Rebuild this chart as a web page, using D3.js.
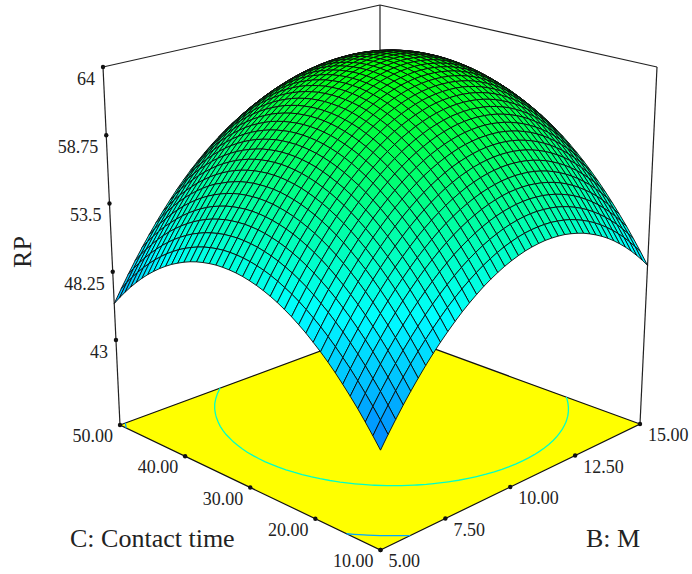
<!DOCTYPE html>
<html>
<head>
<meta charset="utf-8">
<script src="https://cdn.jsdelivr.net/npm/d3@7"></script>
<style>
html, body { margin: 0; padding: 0; background: #fff; }
text { font-family: "Liberation Serif", serif; fill: #222; }
</style>
</head>
<body>
<svg id="chart"></svg>
<script>
const width = 692
const height = 574

const rpTicks = [43, 48.25, 53.5, 58.75, 64]
const bTicks = [5, 7.5, 10, 12.5, 15]
const cTicks = [10, 20, 30, 40, 50]
const contourLevels = [46.5, 56]
const contourColors = ['#00a8ff', '#00ffc8']

// rows: B from 5 to 15, columns: C from 10 to 50
const rpGrid = [
  [43.30,44.06,44.79,45.49,46.14,46.76,47.35,47.90,48.41,48.88,49.33,49.73,50.10,50.43,50.73,50.99,51.21,51.40,51.55,51.67,51.75,51.79,51.80,51.78,51.71,51.61,51.48,51.31,51.10,50.85,50.58,50.26,49.91,49.52,49.10,48.64,48.14,47.61,47.04,46.44,45.80],
  [44.15,44.92,45.65,46.34,47.00,47.63,48.21,48.76,49.28,49.76,50.20,50.61,50.98,51.32,51.61,51.88,52.11,52.30,52.45,52.57,52.65,52.70,52.71,52.69,52.63,52.53,52.40,52.23,52.02,51.78,51.51,51.19,50.85,50.46,50.04,49.58,49.09,48.56,48.00,47.40,46.76],
  [44.96,45.73,46.47,47.16,47.83,48.45,49.04,49.60,50.11,50.60,51.04,51.45,51.83,52.16,52.47,52.73,52.96,53.16,53.31,53.44,53.52,53.57,53.59,53.56,53.51,53.41,53.28,53.12,52.91,52.68,52.40,52.09,51.75,51.36,50.95,50.49,50.00,49.48,48.91,48.32,47.68],
  [45.74,46.51,47.25,47.95,48.61,49.24,49.83,50.39,50.91,51.40,51.85,52.26,52.64,52.98,53.28,53.55,53.78,53.98,54.14,54.27,54.36,54.41,54.43,54.40,54.35,54.26,54.13,53.97,53.77,53.53,53.26,52.95,52.61,52.23,51.82,51.36,50.88,50.35,49.79,49.20,48.57],
  [46.48,47.25,47.99,48.70,49.36,49.99,50.59,51.15,51.67,52.16,52.61,53.03,53.41,53.75,54.06,54.33,54.57,54.77,54.93,55.06,55.15,55.21,55.23,55.21,55.15,55.06,54.94,54.77,54.58,54.34,54.07,53.76,53.42,53.04,52.62,52.17,51.71,51.19,50.63,50.05,49.42],
  [47.18,47.96,48.70,49.41,50.08,50.71,51.31,51.87,52.40,52.89,53.34,53.76,54.14,54.49,54.80,55.07,55.31,55.51,55.68,55.81,55.91,55.96,55.99,55.97,55.92,55.84,55.72,55.56,55.36,55.13,54.87,54.57,54.23,53.86,53.45,53.00,52.52,52.00,51.45,50.86,50.23],
  [47.85,48.63,49.37,50.08,50.75,51.39,51.99,52.56,53.09,53.58,54.03,54.46,54.84,55.19,55.50,55.78,56.02,56.23,56.40,56.53,56.63,56.69,56.71,56.69,56.65,56.56,56.45,56.28,56.09,55.85,55.62,55.32,54.98,54.61,54.20,53.76,53.28,52.77,52.22,51.63,51.01],
  [48.48,49.26,50.00,50.72,51.40,52.04,52.64,53.21,53.74,54.24,54.70,55.12,55.51,55.86,56.18,56.46,56.70,56.91,57.09,57.22,57.32,57.39,57.41,57.40,57.35,57.27,57.15,57.00,56.81,56.58,56.32,56.02,55.69,55.31,54.91,54.46,53.99,53.49,52.95,52.36,51.75],
  [49.07,49.85,50.60,51.32,52.00,52.64,53.25,53.82,54.35,54.85,55.31,55.74,56.13,56.49,56.81,57.09,57.33,57.55,57.72,57.86,57.96,58.03,58.06,58.05,58.01,57.93,57.82,57.67,57.48,57.26,57.00,56.70,56.38,56.00,55.60,55.17,54.70,54.19,53.66,53.07,52.45],
  [49.62,50.41,51.17,51.88,52.57,53.21,53.82,54.39,54.93,55.43,55.90,56.33,56.72,57.08,57.40,57.68,57.93,58.15,58.33,58.47,58.57,58.64,58.67,58.67,58.63,58.55,58.45,58.29,58.11,57.89,57.64,57.35,57.02,56.66,56.26,55.82,55.36,54.85,54.32,53.73,53.12],
  [50.14,50.94,51.69,52.41,53.10,53.75,54.36,54.93,55.47,55.97,56.44,56.87,57.27,57.63,57.95,58.24,58.50,58.72,58.90,59.04,59.15,59.22,59.26,59.25,59.22,59.15,59.03,58.89,58.71,58.50,58.25,57.96,57.64,57.28,56.88,56.45,55.98,55.48,54.95,54.36,53.75],
  [50.63,51.42,52.18,52.91,53.59,54.24,54.86,55.44,55.98,56.48,56.95,57.38,57.78,58.15,58.47,58.77,59.03,59.25,59.43,59.58,59.69,59.76,59.80,59.80,59.77,59.69,59.59,59.45,59.27,59.06,58.81,58.53,58.21,57.85,57.45,57.02,56.57,56.07,55.54,54.97,54.34],
  [51.07,51.87,52.63,53.36,54.05,54.70,55.32,55.90,56.44,56.95,57.42,57.86,58.27,58.63,58.96,59.26,59.51,59.73,59.92,60.07,60.18,60.26,60.30,60.30,60.27,60.19,60.10,59.96,59.80,59.58,59.34,59.06,58.74,58.38,57.99,57.56,57.11,56.61,56.07,55.50,54.89],
  [51.48,52.28,53.05,53.78,54.47,55.13,55.75,56.33,56.88,57.39,57.87,58.31,58.71,59.08,59.41,59.71,59.97,60.19,60.38,60.53,60.65,60.73,60.77,60.78,60.75,60.69,60.59,60.45,60.28,60.08,59.83,59.55,59.24,58.88,58.50,58.07,57.61,57.12,56.59,56.02,55.41],
  [51.86,52.66,53.43,54.16,54.85,55.52,56.13,56.72,57.27,57.78,58.27,58.71,59.12,59.49,59.82,60.12,60.38,60.62,60.81,60.96,61.08,61.16,61.21,61.22,61.19,61.13,61.04,60.90,60.74,60.53,60.29,60.02,59.71,59.36,58.98,58.56,58.11,57.61,57.08,56.50,55.90],
  [52.19,53.00,53.77,54.50,55.20,55.86,56.49,57.08,57.63,58.15,58.63,59.08,59.49,59.86,60.20,60.50,60.76,60.99,61.19,61.35,61.47,61.55,61.60,61.62,61.59,61.54,61.44,61.31,61.15,60.94,60.71,60.43,60.12,59.77,59.39,58.97,58.52,58.03,57.50,56.94,56.34],
  [52.49,53.30,54.07,54.81,55.51,56.18,56.80,57.40,57.95,58.47,58.96,59.41,59.82,60.20,60.54,60.84,61.11,61.34,61.54,61.70,61.82,61.91,61.96,61.98,61.96,61.91,61.81,61.69,61.52,61.32,61.09,60.82,60.51,60.17,59.79,59.37,58.92,58.43,57.91,57.35,56.75],
  [52.76,53.57,54.34,55.08,55.78,56.45,57.08,57.68,58.24,58.76,59.25,59.70,60.11,60.49,60.84,61.14,61.42,61.65,61.85,62.01,62.14,62.23,62.29,62.31,62.29,62.24,62.15,62.02,61.86,61.67,61.43,61.16,60.86,60.52,60.14,59.73,59.28,58.80,58.28,57.72,57.13],
  [52.98,53.80,54.57,55.32,56.02,56.69,57.33,57.93,58.49,59.01,59.50,59.96,60.37,60.76,61.10,61.41,61.68,61.92,62.13,62.29,62.42,62.52,62.57,62.60,62.58,62.53,62.45,62.32,62.17,61.97,61.74,61.48,61.17,60.84,60.46,60.05,59.61,59.12,58.61,58.05,57.46],
  [53.17,53.99,54.77,55.52,56.22,56.90,57.53,58.13,58.70,59.23,59.72,60.18,60.60,60.98,61.33,61.64,61.92,62.16,62.37,62.54,62.67,62.76,62.83,62.85,62.84,62.79,62.71,62.59,62.43,62.24,62.02,61.75,61.45,61.12,60.75,60.34,59.90,59.42,58.90,58.35,57.76],
  [53.33,54.15,54.93,55.68,56.39,57.06,57.70,58.31,58.87,59.41,59.90,60.36,60.78,61.17,61.52,61.84,62.12,62.36,62.57,62.74,62.88,62.98,63.04,63.07,63.06,63.01,62.93,62.82,62.66,62.48,62.25,61.99,61.69,61.36,60.99,60.59,60.15,59.67,59.16,58.61,58.03],
  [53.44,54.27,55.05,55.80,56.52,57.19,57.84,58.44,59.01,59.55,60.05,60.51,60.93,61.32,61.68,62.00,62.28,62.53,62.74,62.91,63.05,63.15,63.22,63.25,63.24,63.20,63.12,63.01,62.86,62.67,62.45,62.19,61.90,61.57,61.20,60.80,60.36,59.89,59.38,58.83,58.25],
  [53.52,54.35,55.14,55.89,56.61,57.29,57.93,58.54,59.11,59.65,60.15,60.62,61.05,61.44,61.80,62.12,62.40,62.65,62.86,63.04,63.18,63.29,63.36,63.39,63.39,63.35,63.27,63.16,63.01,62.83,62.61,62.36,62.07,61.74,61.38,60.98,60.54,60.07,59.56,59.02,58.44],
  [53.57,54.39,55.19,55.94,56.66,57.34,57.99,58.60,59.18,59.72,60.22,60.69,61.12,61.52,61.88,62.20,62.49,62.74,62.96,63.14,63.28,63.39,63.46,63.50,63.50,63.46,63.39,63.28,63.13,62.95,62.74,62.49,62.20,61.87,61.51,61.12,60.68,60.22,59.71,59.17,58.60],
  [53.57,54.40,55.20,55.96,56.68,57.37,58.02,58.63,59.21,59.75,60.26,60.73,61.16,61.56,61.92,62.25,62.54,62.80,63.01,63.20,63.34,63.45,63.53,63.57,63.57,63.54,63.47,63.36,63.22,63.04,62.83,62.58,62.29,61.97,61.61,61.22,60.79,60.33,59.82,59.29,58.71],
  [53.54,54.38,55.17,55.93,56.66,57.35,58.00,58.62,59.20,59.75,60.26,60.73,61.17,61.57,61.93,62.26,62.55,62.81,63.03,63.22,63.37,63.48,63.56,63.60,63.60,63.57,63.51,63.40,63.27,63.09,62.88,62.63,62.35,62.03,61.68,61.29,60.86,60.40,59.90,59.36,58.79],
  [53.48,54.31,55.11,55.88,56.60,57.30,57.95,58.57,59.16,59.71,60.22,60.69,61.13,61.54,61.90,62.24,62.53,62.79,63.02,63.21,63.36,63.47,63.55,63.60,63.60,63.58,63.51,63.41,63.28,63.11,62.90,62.65,62.37,62.06,61.70,61.32,60.89,60.43,59.94,59.41,58.84],
  [53.37,54.21,55.02,55.78,56.51,57.21,57.87,58.49,59.08,59.63,60.14,60.62,61.06,61.47,61.84,62.18,62.47,62.74,62.96,63.15,63.31,63.43,63.51,63.56,63.57,63.54,63.48,63.38,63.25,63.08,62.88,62.64,62.36,62.04,61.70,61.31,60.89,60.43,59.94,59.41,58.84],
  [53.23,54.08,54.88,55.65,56.38,57.08,57.74,58.37,58.96,59.51,60.03,60.51,60.96,61.37,61.74,62.08,62.38,62.64,62.87,63.07,63.22,63.35,63.43,63.48,63.49,63.47,63.41,63.32,63.19,63.02,62.82,62.58,62.31,62.00,61.65,61.27,60.85,60.39,59.90,59.38,58.81],
  [53.06,53.90,54.71,55.48,56.22,56.92,57.58,58.21,58.80,59.36,59.88,60.36,60.81,61.23,61.60,61.94,62.25,62.51,62.75,62.94,63.10,63.23,63.32,63.37,63.38,63.36,63.31,63.22,63.09,62.93,62.73,62.49,62.22,61.91,61.57,61.19,60.77,60.32,59.83,59.31,58.75],
  [52.84,53.69,54.50,55.28,56.02,56.72,57.39,58.02,58.61,59.17,59.69,60.18,60.63,61.05,61.43,61.77,62.08,62.35,62.58,62.78,62.94,63.07,63.16,63.22,63.24,63.22,63.17,63.08,62.95,62.79,62.59,62.36,62.09,61.79,61.45,61.07,60.66,60.21,59.72,59.20,58.64],
  [52.59,53.44,54.26,55.04,55.78,56.48,57.15,57.79,58.38,58.95,59.47,59.96,60.42,60.83,61.22,61.56,61.87,62.14,62.38,62.58,62.75,62.88,62.97,63.03,63.05,63.04,62.99,62.90,62.78,62.62,62.43,62.20,61.93,61.63,61.29,60.92,60.51,60.06,59.58,59.06,58.50],
  [52.31,53.16,53.98,54.76,55.50,56.21,56.88,57.52,58.12,58.69,59.21,59.71,60.16,60.58,60.97,61.32,61.63,61.91,62.15,62.35,62.52,62.65,62.75,62.81,62.83,62.82,62.77,62.69,62.57,62.42,62.22,62.00,61.73,61.43,61.10,60.73,60.32,59.88,59.40,58.88,58.33],
  [51.99,52.84,53.66,54.44,55.19,55.90,56.58,57.22,57.82,58.39,58.92,59.41,59.87,60.30,60.68,61.03,61.35,61.63,61.87,62.08,62.25,62.39,62.49,62.55,62.58,62.57,62.52,62.44,62.32,62.17,61.98,61.76,61.50,61.20,60.87,60.50,60.09,59.65,59.18,58.66,58.12],
  [51.63,52.48,53.31,54.09,54.84,55.56,56.23,56.88,57.48,58.05,58.59,59.08,59.55,59.97,60.36,60.72,61.03,61.32,61.56,61.77,61.95,62.08,62.19,62.25,62.28,62.28,62.23,62.16,62.04,61.89,61.71,61.48,61.23,60.93,60.60,60.24,59.83,59.40,58.92,58.41,57.87],
  [51.23,52.09,52.92,53.71,54.46,55.17,55.86,56.50,57.11,57.68,58.22,58.72,59.18,59.61,60.01,60.36,60.68,60.97,61.22,61.43,61.61,61.75,61.85,61.92,61.95,61.95,61.91,61.84,61.72,61.58,61.39,61.17,60.92,60.63,60.30,59.94,59.54,59.10,58.63,58.12,57.58],
  [50.80,51.66,52.49,53.28,54.04,54.76,55.44,56.09,56.70,57.27,57.81,58.32,58.78,59.22,59.61,59.97,60.29,60.58,60.83,61.05,61.23,61.37,61.48,61.55,61.59,61.59,61.55,61.48,61.37,61.22,61.04,60.83,60.57,60.29,59.96,59.60,59.20,58.77,58.30,57.80,57.26],
  [50.33,51.20,52.03,52.82,53.58,54.30,54.99,55.64,56.25,56.83,57.37,57.88,58.35,58.78,59.18,59.54,59.87,60.16,60.41,60.63,60.81,60.96,61.07,61.14,61.18,61.19,61.15,61.08,60.98,60.83,60.66,60.44,60.19,59.91,59.59,59.23,58.83,58.40,57.94,57.44,56.90],
  [49.82,50.69,51.52,52.32,53.08,53.81,54.50,55.15,55.77,56.35,56.89,57.40,57.87,58.31,58.71,59.08,59.41,59.70,59.96,60.18,60.36,60.51,60.62,60.70,60.74,60.75,60.72,60.65,60.55,60.41,60.23,60.02,59.77,59.49,59.17,58.82,58.43,58.00,57.54,57.04,56.50],
  [49.28,50.15,50.99,51.79,52.55,53.28,53.97,54.63,55.25,55.83,56.38,56.89,57.36,57.80,58.21,58.58,58.91,59.20,59.46,59.69,59.87,60.03,60.14,60.22,60.27,60.27,60.25,60.18,60.08,59.94,59.77,59.56,59.32,59.04,58.72,58.37,57.98,57.56,57.10,56.60,56.07],
  [48.70,49.58,50.41,51.22,51.98,52.71,53.41,54.07,54.69,55.28,55.83,56.34,56.82,57.26,57.67,58.04,58.37,58.67,58.93,59.16,59.35,59.51,59.62,59.71,59.75,59.76,59.74,59.68,59.58,59.45,59.28,59.07,58.83,58.55,58.24,57.89,57.50,57.08,56.62,56.13,55.60]
]

const rpFloor = 36.46
const floorBox = { front: [380.5, 550], right: [640, 424], back: [380, 329], left: [120, 425] }
const topBox = { front: [380.5, 148], right: [657, 67], back: [380, 5], left: [103, 67] }

const uScale = d3.scaleLinear().domain([5, 15]).range([0, 1])
const vScale = d3.scaleLinear().domain([10, 50]).range([0, 1])
const zScale = d3.scaleLinear().domain([rpFloor, 64]).range([0, 1])
const colorScale = d3.scaleLinear()
  .domain([36, 50.5, 64])
  .range(['#0000ff', '#00ffff', '#00ff00'])
  .clamp(true)

// unit square to quad mapping
const squareToQuad = (q) => {
  const dx1 = q.right[0] - q.back[0], dx2 = q.left[0] - q.back[0]
  const dy1 = q.right[1] - q.back[1], dy2 = q.left[1] - q.back[1]
  const sx = q.front[0] - q.right[0] + q.back[0] - q.left[0]
  const sy = q.front[1] - q.right[1] + q.back[1] - q.left[1]
  const den = dx1 * dy2 - dx2 * dy1
  const g = (sx * dy2 - dx2 * sy) / den
  const h = (dx1 * sy - sx * dy1) / den
  const a = q.right[0] - q.front[0] + g * q.right[0]
  const b = q.left[0] - q.front[0] + h * q.left[0]
  const d = q.right[1] - q.front[1] + g * q.right[1]
  const e = q.left[1] - q.front[1] + h * q.left[1]
  return (u, v) => {
    const w = 1 + g * u + h * v
    return [(q.front[0] + a * u + b * v) / w, (q.front[1] + d * u + e * v) / w]
  }
}
const floorMap = squareToQuad(floorBox)
const topMap = squareToQuad(topBox)

const project = (u, v, z) => {
  const f = floorMap(u, v)
  const t = topMap(u, v)
  return [f[0] + (t[0] - f[0]) * z, f[1] + (t[1] - f[1]) * z]
}

const svg = d3.select('#chart').attr('width', width).attr('height', height)
const line = d3.line()
const along = (p, q, t) => [p[0] + (q[0] - p[0]) * t, p[1] + (q[1] - p[1]) * t]

// walls
const drawBox = () => {
  const segs = [
    [topBox.left, floorBox.left], [topBox.right, floorBox.right], [topBox.back, floorBox.back],
    [topBox.left, topBox.back], [topBox.back, topBox.right]
  ]
  svg.append('g').selectAll('path').data(segs).enter().append('path')
    .attr('d', d => line(d)).attr('stroke', '#222').attr('stroke-width', 1.2).attr('fill', 'none')
}

const drawFloor = () => {
  svg.append('path')
    .attr('d', line([floorBox.front, floorBox.right, floorBox.back, floorBox.left]) + 'Z')
    .attr('fill', '#ffff00').attr('stroke', '#111').attr('stroke-width', 1.2)
}

const drawContours = () => {
  const n = rpGrid.length
  const m = rpGrid[0].length
  const values = []
  for (let j = 0; j < m; j++) for (let i = 0; i < n; i++) values.push(rpGrid[i][j])
  const contour = d3.contours().size([n, m]).smooth(true).thresholds(contourLevels)
  // only the iso line, the ring parts running outside the grid are dropped
  contour(values).forEach((c, k) => {
    c.coordinates.forEach(poly => poly.forEach(ring => {
      const pts = ring.map(p => [(p[0] - 0.5) / (n - 1), (p[1] - 0.5) / (m - 1)])
      let run = []
      const runs = []
      pts.forEach(p => {
        const outside = p[0] < -1e-6 || p[0] > 1 + 1e-6 || p[1] < -1e-6 || p[1] > 1 + 1e-6
        if (outside) { if (run.length) runs.push(run); run = [] }
        else run.push(p)
      })
      if (run.length) runs.push(run)
      runs.forEach(r => {
        svg.append('path')
          .attr('d', line(r.map(p => floorMap(p[0], p[1]))))
          .attr('fill', 'none').attr('stroke', contourColors[k]).attr('stroke-width', 1.3)
      })
    }))
  })
}

const drawSurface = () => {
  const n = rpGrid.length
  const m = rpGrid[0].length
  const cells = []
  for (let i = 0; i < n - 1; i++) {
    for (let j = 0; j < m - 1; j++) {
      cells.push({ i, j })
    }
  }
  // back to front
  cells.sort((a, b) => (b.i + b.j) - (a.i + a.j))
  const pt = (i, j) => project(i / (n - 1), j / (m - 1), zScale(rpGrid[i][j]))
  svg.append('g').selectAll('path').data(cells).enter().append('path')
    .attr('d', d => line([pt(d.i, d.j), pt(d.i + 1, d.j), pt(d.i + 1, d.j + 1), pt(d.i, d.j + 1)]) + 'Z')
    .attr('fill', d => colorScale((rpGrid[d.i][d.j] + rpGrid[d.i + 1][d.j] + rpGrid[d.i + 1][d.j + 1] + rpGrid[d.i][d.j + 1]) / 4))
    .attr('stroke', '#0a0a0a').attr('stroke-width', 0.9)
    .attr('stroke-linejoin', 'round')
}

const drawAxes = () => {
  const dots = []
  const labels = []
  rpTicks.forEach(t => {
    const p = along(floorBox.left, topBox.left, zScale(t))
    dots.push(p)
    labels.push({ x: p[0] - 8, y: p[1] + 18, anchor: 'end', text: t })
  })
  bTicks.forEach(t => {
    const p = along(floorBox.front, floorBox.right, uScale(t))
    dots.push(p)
    labels.push({ x: p[0] + 8, y: p[1] + 17, anchor: 'start', text: d3.format('.2f')(t) })
  })
  cTicks.forEach(t => {
    const p = along(floorBox.front, floorBox.left, vScale(t))
    dots.push(p)
    labels.push({ x: p[0] - 7, y: p[1] + 17, anchor: 'end', text: d3.format('.2f')(t) })
  })
  svg.append('g').selectAll('circle').data(dots).enter().append('circle')
    .attr('cx', d => d[0]).attr('cy', d => d[1]).attr('r', 2.2).attr('fill', '#111')
  svg.append('g').selectAll('text').data(labels).enter().append('text')
    .attr('x', d => d.x).attr('y', d => d.y)
    .attr('text-anchor', d => d.anchor)
    .attr('font-size', 18)
    .text(d => d.text)

  svg.append('text').attr('x', 70).attr('y', 547).attr('font-size', 26).text('C: Contact time')
  svg.append('text').attr('x', 586).attr('y', 547).attr('font-size', 26).text('B: M')
  svg.append('text').attr('transform', 'translate(31, 252) rotate(-90)')
    .attr('text-anchor', 'middle').attr('font-size', 26).text('RP')
}

drawBox()
drawFloor()
drawContours()
drawSurface()
drawAxes()
</script>
</body>
</html>
